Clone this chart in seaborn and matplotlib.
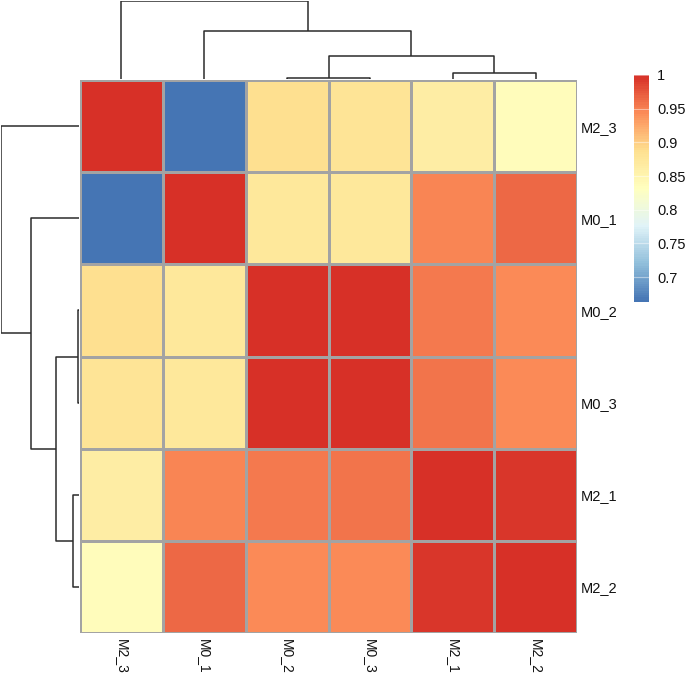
"""Clustered correlation heatmap of samples (pheatmap style)."""

import numpy as np
import pandas as pd
import matplotlib
matplotlib.use("Agg")
import matplotlib.pyplot as plt
from matplotlib.colors import LinearSegmentedColormap
import seaborn as sns

samples = ["M2_3", "M0_1", "M0_2", "M0_3", "M2_1", "M2_2"]
r_m2_3 = [1.000, 0.663, 0.886, 0.881, 0.865, 0.835]
r_m0_1 = [0.663, 1.000, 0.874, 0.874, 0.949, 0.966]
r_m0_2 = [0.886, 0.874, 1.000, 0.998, 0.955, 0.944]
r_m0_3 = [0.881, 0.874, 0.998, 1.000, 0.959, 0.943]
r_m2_1 = [0.865, 0.949, 0.955, 0.959, 1.000, 0.995]
r_m2_2 = [0.835, 0.966, 0.944, 0.943, 0.995, 1.000]
cbar_ticks = [0.7, 0.75, 0.8, 0.85, 0.9, 0.95, 1.0]
cbar_labels = ["0.7", "0.75", "0.8", "0.85", "0.9", "0.95", "1"]

palette = ["#4575B4", "#91BFDB", "#E0F3F8", "#FFFFBF",
           "#FEE090", "#FC8D59", "#D73027"]


def complete_linkage(X):
    """Complete-linkage clustering on euclidean distances of the rows."""
    D = np.sqrt(((X[:, None, :] - X[None, :, :]) ** 2).sum(axis=2))
    clusters = {i: [i] for i in range(len(X))}
    merges = []
    next_id = len(X)
    while len(clusters) > 1:
        keys = list(clusters)
        best = None
        for i, a in enumerate(keys):
            for b in keys[i + 1:]:
                h = D[np.ix_(clusters[a], clusters[b])].max()
                if best is None or h < best[2]:
                    best = (a, b, h)
        a, b, h = best
        clusters[next_id] = clusters.pop(a) + clusters.pop(b)
        merges.append((a, b, h))
        next_id += 1
    return merges


def draw_dendrogram(ax, merges, n, orient="top", color="#2b2b2b"):
    pos = {i: i + 0.5 for i in range(n)}
    hgt = {i: 0.0 for i in range(n)}
    for k, (a, b, h) in enumerate(merges):
        xs = [pos[a], pos[a], pos[b], pos[b]]
        ys = [hgt[a], h, h, hgt[b]]
        if orient == "top":
            ax.plot(xs, ys, color=color, lw=1.1, solid_capstyle="butt")
        else:
            ax.plot(ys, xs, color=color, lw=1.1, solid_capstyle="butt")
        pos[n + k] = (pos[a] + pos[b]) / 2
        hgt[n + k] = h
    hmax = merges[-1][2]
    if orient == "top":
        ax.set_xlim(0, n)
        ax.set_ylim(0, hmax * 1.005)
    else:
        ax.set_ylim(n, 0)
        ax.set_xlim(hmax * 1.005, 0)
    ax.axis("off")


df = pd.DataFrame([r_m2_3, r_m0_1, r_m0_2, r_m0_3, r_m2_1, r_m2_2],
                  index=samples, columns=samples)
merges = complete_linkage(df.values)

plt.rcParams["font.family"] = ["Liberation Sans", "DejaVu Sans"]
cmap = LinearSegmentedColormap.from_list("pheat", palette, N=100)

W, H = 685, 676
fig = plt.figure(figsize=(W / 100, H / 100), dpi=100)


def px_axes(x0, y0, x1, y1):
    return fig.add_axes([x0 / W, 1 - y1 / H, (x1 - x0) / W, (y1 - y0) / H])


ax_heat = px_axes(80, 80, 577, 633)
ax_top = px_axes(80, 1, 577, 79)
ax_left = px_axes(1, 80, 79, 633)
ax_cbar = px_axes(634, 75, 649, 302)

vmin = df.values.min()
sns.heatmap(df, ax=ax_heat, cmap=cmap, vmin=vmin, vmax=1.0,
            linewidths=0.8, linecolor="#A3A3A3", cbar_ax=ax_cbar,
            cbar_kws={"ticks": cbar_ticks})

ax_heat.yaxis.tick_right()
ax_heat.set_yticklabels(samples, rotation=0, fontsize=10.5, color="#111111")
ax_heat.set_xticklabels(samples, rotation=270, fontsize=10, color="#111111")
ax_heat.tick_params(axis="y", length=0, pad=3)
ax_heat.tick_params(axis="x", length=0, pad=4)
ax_heat.set_xlabel("")
ax_heat.set_ylabel("")

cbar = ax_heat.collections[0].colorbar
cbar.outline.set_visible(False)
ax_cbar.set_yticklabels(cbar_labels, fontsize=10.5, color="#111111")
ax_cbar.tick_params(axis="y", direction="in", length=15, width=0.8,
                    color=(1, 1, 1, 0.45), pad=6)

draw_dendrogram(ax_top, merges, len(samples), orient="top")
draw_dendrogram(ax_left, merges, len(samples), orient="left")

fig.savefig("out.png", dpi=100, facecolor="white")
